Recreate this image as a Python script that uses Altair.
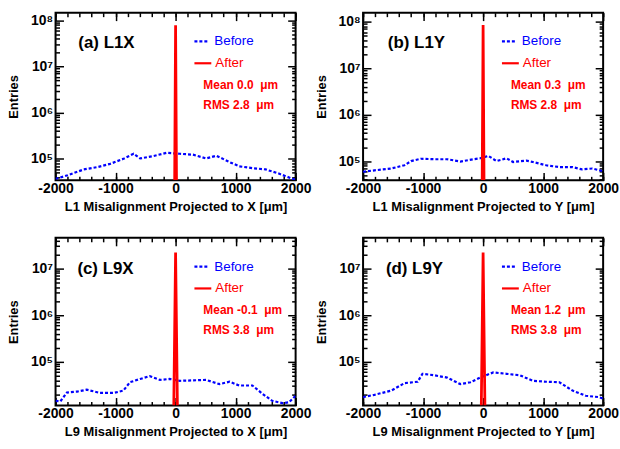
import altair as alt
import pandas as pd

FONT = "Liberation Sans"

panel_labels = ["(a) L1X", "(b) L1Y", "(c) L9X", "(d) L9Y"]
x_titles = [
    "L1 Misalignment Projected to X [μm]",
    "L1 Misalignment Projected to Y [μm]",
    "L9 Misalignment Projected to X [μm]",
    "L9 Misalignment Projected to Y [μm]",
]
means = ["0.0", "0.3", "-0.1", "1.2"]
rmss = ["2.8", "2.8", "3.8", "3.8"]

# "Before" histograms (blue dashed)
before_x_a = [-2000, -1800, -1530, -1310, -1090, -870, -700, -590, -370, -150, 70, 290, 510, 680, 900, 1060, 1280, 1500, 1720, 1950, 2000]
before_y_a = [37000, 44000, 59000, 66000, 78000, 100000, 129000, 102000, 115000, 135000, 129000, 123000, 102000, 117000, 85000, 69000, 63000, 59000, 48000, 37000, 35500]

before_x_b = [-2000, -1810, -1530, -1310, -1200, -1040, -820, -600, -380, -160, -50, 90, 225, 390, 500, 720, 830, 1050, 1270, 1490, 1650, 1820, 2000]
before_y_b = [58900, 63100, 69200, 81300, 100000, 112200, 109600, 109600, 97700, 109600, 114800, 128800, 100000, 114800, 95500, 102300, 95500, 81300, 74100, 74100, 66100, 69200, 60300]

before_x_c = [-2000, -1920, -1810, -1640, -1480, -1260, -1030, -870, -760, -590, -430, -260, -100, 70, 290, 510, 730, 900, 1060, 1280, 1450, 1610, 1780, 1890, 2000]
before_y_c = [14450, 14130, 21900, 22900, 25100, 21400, 21400, 24000, 36300, 42700, 49000, 40700, 42700, 38900, 39800, 40700, 33100, 37200, 30900, 30900, 20400, 14500, 12900, 13500, 18600]

before_x_d = [-2000, -1810, -1530, -1310, -1090, -1010, -820, -600, -380, -210, -50, 170, 390, 610, 830, 1050, 1270, 1490, 1710, 1930, 2000]
before_y_d = [17400, 19500, 24000, 34700, 37200, 55000, 51300, 45700, 33100, 36300, 45700, 58900, 55000, 51300, 38900, 37200, 36300, 24000, 18600, 17400, 16200]

# "After" spikes (red)
after_peak = [7.8e7, 8.5e7, 2.2e7, 2.2e7]
after_halfwidth = [15, 15, 30, 30]

y_domains = [[34300, 1.46e8], [38500, 1.57e8], [11500, 4.53e7], [11500, 4.53e7]]
x_domain = [-2000, 2000]
x_major = [-2000, -1000, 0, 1000, 2000]
x_minor = list(range(-2000, 2001, 200))

befores = [(before_x_a, before_y_a), (before_x_b, before_y_b), (before_x_c, before_y_c), (before_x_d, before_y_d)]

W, H = 242, 169
BLUE = "#0000ff"
RED = "#ff0000"


def make_panel(i, label_x):
    bx, by = befores[i]
    lo, hi = y_domains[i]
    before_df = pd.DataFrame({"x": bx, "y": by})
    hw = after_halfwidth[i]
    after_df = pd.DataFrame({"x": [-hw, 0, hw], "y": [lo, after_peak[i], lo]})

    y_major = [10.0 ** e for e in range(3, 10) if lo <= 10.0 ** e <= hi]
    y_minor = [m * 10.0 ** e for e in range(3, 9) for m in range(2, 10) if lo <= m * 10.0 ** e <= hi]

    xs = alt.Scale(domain=x_domain, nice=False, zero=False)
    ys = alt.Scale(type="log", domain=[lo, hi], nice=False)

    common = dict(grid=False, domain=False, tickColor="black", tickWidth=1.5)

    ax_x_major = alt.Axis(orient="bottom", values=x_major, tickSize=8, offset=-8, labelFont=FONT,
                          labelFontSize=14, labelFontWeight="bold", labelColor="black", labelPadding=1,
                          labelFlush=False, labelOverlap=False, labelExpr="datum.value + ''",
                          title=x_titles[i], titleFont=FONT, titleFontSize=13, titleFontWeight="bold",
                          titleColor="black", titlePadding=5, **common)
    ax_y_major = alt.Axis(orient="left", values=y_major, tickSize=8, offset=-8, labelFont=FONT,
                          labelFontSize=14, labelFontWeight="bold", labelColor="black", labelPadding=3,
                          labelOverlap=False,
                          labelExpr="'10' + (datum.value > 5e7 ? '⁸' : datum.value > 5e6 ? '⁷' : datum.value > 5e5 ? '⁶' : '⁵')",
                          title="Entries", titleFont=FONT, titleFontSize=13, titleFontWeight="bold",
                          titleColor="black", titlePadding=10, **common)
    ax_x_minor_b = alt.Axis(orient="bottom", values=x_minor, tickSize=4, offset=-4, labels=False, title=None, **common)
    ax_y_minor_l = alt.Axis(orient="left", values=y_minor, tickSize=4, offset=-4, labels=False, title=None, **common)
    ax_x_major_t = alt.Axis(orient="top", values=x_major, tickSize=8, offset=-8, labels=False, title=None, **common)
    ax_y_major_r = alt.Axis(orient="right", values=y_major, tickSize=8, offset=-8, labels=False, title=None, **common)
    ax_x_minor_t = alt.Axis(orient="top", values=x_minor, tickSize=4, offset=-4, labels=False, title=None, **common)
    ax_y_minor_r = alt.Axis(orient="right", values=y_minor, tickSize=4, offset=-4, labels=False, title=None, **common)

    before = alt.Chart(before_df).mark_line(color=BLUE, strokeWidth=2.2, strokeDash=[3, 2], clip=True).encode(
        x=alt.X("x:Q", scale=xs, axis=ax_x_major),
        y=alt.Y("y:Q", scale=ys, axis=ax_y_major),
    )
    after = alt.Chart(after_df).mark_line(color=RED, strokeWidth=2.8, clip=True).encode(
        x=alt.X("x:Q", scale=xs, axis=ax_x_minor_b),
        y=alt.Y("y:Q", scale=ys, axis=ax_y_minor_l),
    )
    ghost1 = alt.Chart(before_df).mark_line(opacity=0).encode(
        x=alt.X("x:Q", scale=xs, axis=ax_x_major_t),
        y=alt.Y("y:Q", scale=ys, axis=ax_y_major_r),
    )
    ghost2 = alt.Chart(before_df).mark_line(opacity=0).encode(
        x=alt.X("x:Q", scale=xs, axis=ax_x_minor_t),
        y=alt.Y("y:Q", scale=ys, axis=ax_y_minor_r),
    )

    txt_df = pd.DataFrame({
        "label": [panel_labels[i]],
        "mean": ["Mean " + means[i] + "\u00a0 μm"],
        "rms": ["RMS " + rmss[i] + "\u00a0 μm"],
    })
    base = alt.Chart(txt_df)
    lab = base.mark_text(font=FONT, fontSize=17, fontWeight="bold", color="black", align="left",
                         baseline="middle").encode(text="label:N", x=alt.value(label_x), y=alt.value(31))
    t_before = base.mark_text(font=FONT, fontSize=13.5, color=BLUE, align="left", baseline="middle",
                              text="Before").encode(x=alt.value(160), y=alt.value(29))
    t_after = base.mark_text(font=FONT, fontSize=13.5, color=RED, align="left", baseline="middle",
                             text="After").encode(x=alt.value(161), y=alt.value(51))
    t_mean = base.mark_text(font=FONT, fontSize=12, fontWeight="bold", color=RED, align="left",
                            baseline="middle").encode(text="mean:N", x=alt.value(149), y=alt.value(73))
    t_rms = base.mark_text(font=FONT, fontSize=12, fontWeight="bold", color=RED, align="left",
                           baseline="middle").encode(text="rms:N", x=alt.value(149), y=alt.value(93))
    l_before = base.mark_rule(color=BLUE, strokeWidth=2.2, strokeDash=[3, 2]).encode(
        x=alt.value(140), x2=alt.value(155), y=alt.value(29))
    l_after = base.mark_rule(color=RED, strokeWidth=2.2).encode(
        x=alt.value(140), x2=alt.value(157), y=alt.value(51))

    return alt.layer(before, after, ghost1, ghost2, lab, t_before, t_after, t_mean, t_rms, l_before, l_after).resolve_axis(
        x="independent", y="independent"
    ).properties(width=W, height=H)


pa = make_panel(0, 23)
pb = make_panel(1, 25)
pc = make_panel(2, 22)
pd_ = make_panel(3, 23)

chart = alt.concat(
    pa, pb, pc, pd_, columns=2,
    spacing=alt.RowColnumber(row=58, column=68), bounds="flush",
).properties(
    padding={"left": 6, "top": 9, "right": 0, "bottom": 0},
    background="white",
).configure_view(stroke="black", strokeWidth=2)

chart.save("out.html", embed_options={"renderer": "svg", "actions": False})
